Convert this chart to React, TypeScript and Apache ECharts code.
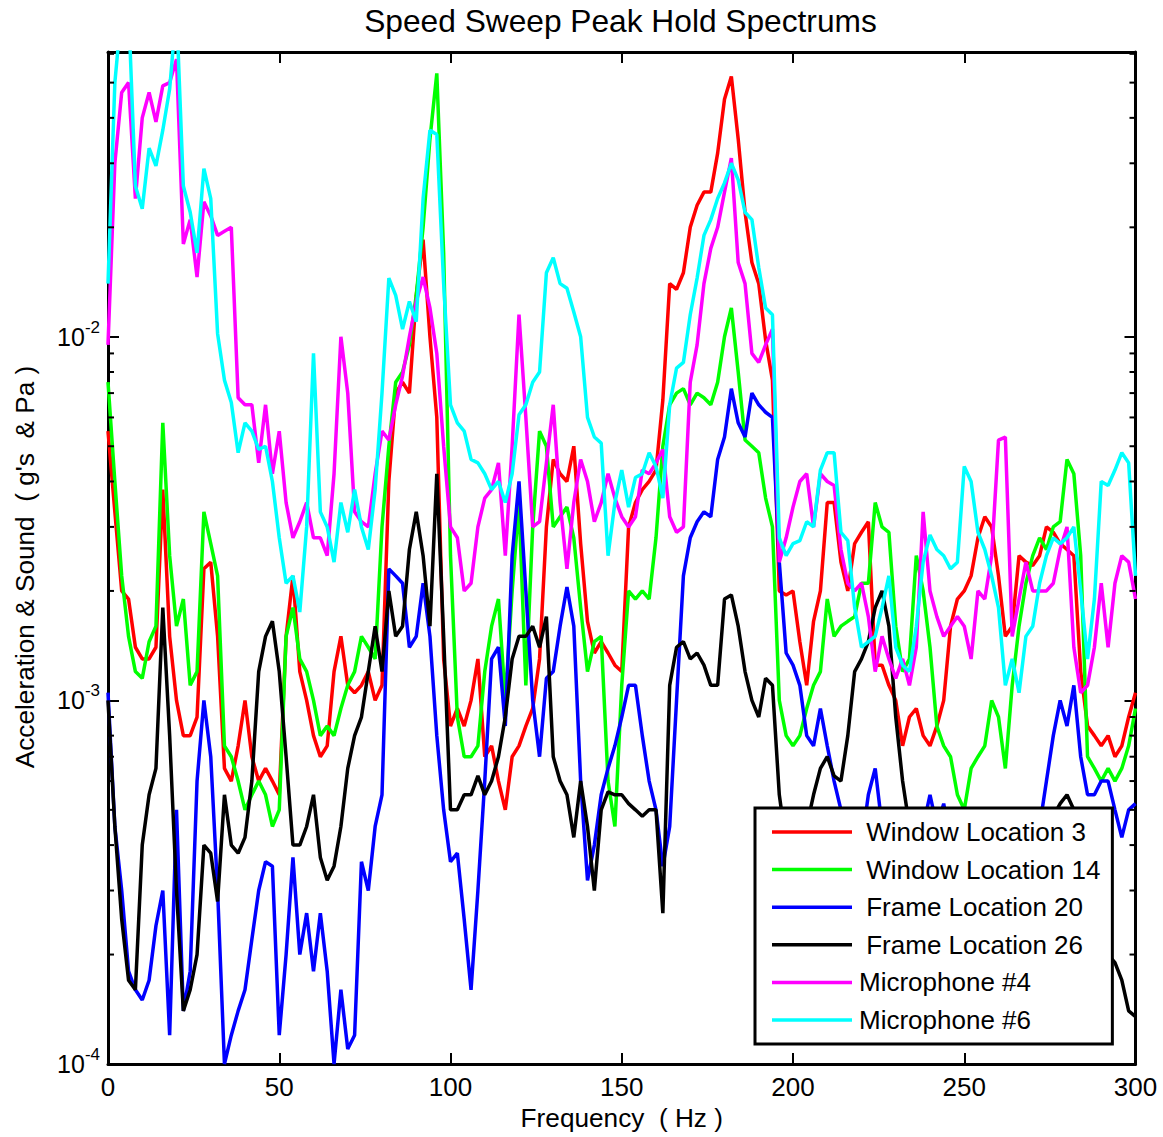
import React, { useEffect, useRef } from 'react';
import * as echarts from 'echarts';

// Frequency sampling points (Hz)
const FREQ = [
  0, 2, 4, 6, 8, 10, 12, 14, 16, 18, 20, 22, 24, 26, 28, 30, 32, 34, 36, 38,
  40, 42, 44, 46, 48, 50, 52, 54, 56, 58, 60, 62, 64, 66, 68, 70, 72, 74, 76, 78,
  80, 82, 84, 86, 88, 90, 92, 94, 96, 98, 100, 102, 104, 106, 108, 110, 112, 114, 116, 118,
  120, 122, 124, 126, 128, 130, 132, 134, 136, 138, 140, 142, 144, 146, 148, 150, 152, 154, 156, 158,
  160, 162, 164, 166, 168, 170, 172, 174, 176, 178, 180, 182, 184, 186, 188, 190, 192, 194, 196, 198,
  200, 202, 204, 206, 208, 210, 212, 214, 216, 218, 220, 222, 224, 226, 228, 230, 232, 234, 236, 238,
  240, 242, 244, 246, 248, 250, 252, 254, 256, 258, 260, 262, 264, 266, 268, 270, 272, 274, 276, 278,
  280, 282, 284, 286, 288, 290, 292, 294, 296, 298, 300,
];

// Values below are in units of 1e-3 (g's / Pa)
const UNIT = 1e-3;

const WINDOW_3 = [
  5.5, 3.3, 2.0, 1.9, 1.4, 1.3, 1.3, 1.4, 3.8, 1.5,
  1.0, 0.8, 0.8, 0.9, 2.3, 2.4, 1.5, 0.65, 0.6, 0.75,
  1.0, 0.7, 0.6, 0.65, 0.6, 0.55, 1.5, 2.2, 1.2, 1.0,
  0.8, 0.7, 0.75, 1.2, 1.5, 1.1, 1.05, 1.1, 1.2, 1.0,
  1.1, 4.0, 7.0, 7.5, 7.0, 13, 18.5, 10, 6, 1.3,
  0.85, 0.95, 0.85, 1.0, 1.3, 0.7, 0.75, 0.6, 0.5, 0.7,
  0.75, 0.85, 0.95, 1.3, 3.0, 4.6, 4.2, 4.0, 5.0, 2.7,
  1.65, 1.35, 1.45, 1.35, 1.25, 1.2, 3.0, 3.5, 3.8, 4.0,
  4.3, 6.7, 14, 13.5, 15, 20, 23, 25, 25, 32,
  45, 52, 35, 22, 16, 14, 9.8, 7.6, 2.0, 1.95,
  2.0, 1.45, 1.1, 1.65, 2.0, 3.5, 3.5, 2.4, 2.0, 2.7,
  2.9, 3.1, 1.25, 1.25, 1.1, 1.0, 0.75, 0.9, 0.95, 0.8,
  0.75, 0.85, 1.0, 1.6, 1.9, 2.0, 2.2, 2.8, 3.2, 3.0,
  2.2, 1.5, 1.6, 2.5, 2.4, 2.35, 2.5, 3.0, 2.9, 2.7,
  2.6, 2.5, 1.2, 0.85, 0.8, 0.75, 0.8, 0.7, 0.75, 0.9,
  1.05,
];

const WINDOW_14 = [
  7.5, 4.0, 2.2, 1.5, 1.2, 1.15, 1.45, 1.6, 5.8, 2.5,
  1.6, 1.9, 1.1, 1.2, 3.3, 2.7, 2.2, 0.75, 0.7, 0.6,
  0.5, 0.55, 0.6, 0.55, 0.45, 0.5, 1.5, 1.8, 1.3, 1.2,
  1.0, 0.8, 0.85, 0.8, 0.95, 1.1, 1.2, 1.5, 1.4, 1.3,
  3.0, 5.0, 7.5, 8.0, 9.5, 13, 20, 35, 53, 17,
  2.5, 0.9, 0.7, 0.7, 0.75, 1.2, 1.6, 1.9, 1.0, 2.0,
  3.5, 1.1, 3.0, 5.5, 5.0, 3.0, 3.2, 3.4, 2.8, 1.8,
  1.2, 1.45, 1.5, 0.6, 0.45, 1.1, 2.0, 1.9, 2.0, 1.9,
  2.8, 5.0, 6.5, 7.0, 7.2, 6.5, 7.0, 6.8, 6.5, 7.5,
  10, 12, 8.0, 5.2, 5.0, 4.8, 3.6, 3.0, 1.0, 0.8,
  0.75, 0.8, 0.95, 1.1, 1.2, 1.9, 1.5, 1.6, 1.65, 1.7,
  2.1, 2.1, 3.5, 3.0, 2.9, 1.6, 1.2, 1.3, 2.5, 2.0,
  1.4, 0.85, 0.75, 0.7, 0.55, 0.5, 0.65, 0.7, 0.75, 1.0,
  0.9, 0.65, 1.1, 1.6, 2.1, 2.5, 2.8, 2.6, 3.0, 3.1,
  4.6, 4.2, 2.5, 0.7, 0.65, 0.6, 0.65, 0.6, 0.65, 0.75,
  0.95,
];

const FRAME_20 = [
  1.05, 0.45, 0.3, 0.18, 0.16, 0.15, 0.17, 0.24, 0.3, 0.12,
  0.5, 0.14, 0.18, 0.6, 1.0, 0.7, 0.3, 0.1, 0.12, 0.14,
  0.16, 0.22, 0.3, 0.36, 0.35, 0.12, 0.2, 0.37, 0.2, 0.26,
  0.18, 0.26, 0.18, 0.1, 0.16, 0.11, 0.12, 0.36, 0.3, 0.45,
  0.55, 2.3, 2.2, 2.1, 1.4, 1.5, 2.1, 1.5, 0.8, 0.5,
  0.36, 0.38, 0.25, 0.16, 0.3, 0.6, 1.3, 1.4, 0.85, 2.5,
  4.0, 2.0, 1.0, 0.7, 1.15, 1.2, 1.6, 2.05, 1.6, 0.6,
  0.32, 0.4, 0.55, 0.65, 0.75, 0.9, 1.1, 1.1, 0.8, 0.6,
  0.5, 0.35, 0.45, 1.0, 2.2, 2.8, 3.1, 3.3, 3.2, 4.6,
  5.3, 7.2, 5.8, 5.3, 7.0, 6.5, 6.2, 6.0, 2.4, 1.35,
  1.25, 1.1, 0.8, 0.75, 0.95, 0.75, 0.6, 0.5, 0.4, 0.35,
  0.4, 0.55, 0.65, 0.45, 0.35, 0.3, 0.3, 0.35, 0.4, 0.45,
  0.55, 0.45, 0.52, 0.4, 0.3, 0.25, 0.25, 0.3, 0.3, 0.3,
  0.35, 0.35, 0.3, 0.3, 0.35, 0.4, 0.45, 0.6, 0.8, 1.0,
  0.85, 1.1, 0.7, 0.55, 0.55, 0.6, 0.6, 0.5, 0.42, 0.5,
  0.52,
];

const FRAME_26 = [
  1.0, 0.45, 0.25, 0.17, 0.16, 0.4, 0.55, 0.65, 1.8, 0.8,
  0.3, 0.14, 0.16, 0.2, 0.4, 0.38, 0.28, 0.55, 0.4, 0.38,
  0.42, 0.6, 1.2, 1.5, 1.65, 1.2, 0.7, 0.4, 0.4, 0.45,
  0.55, 0.37, 0.32, 0.35, 0.45, 0.65, 0.8, 0.9, 1.2, 1.6,
  1.2, 2.0, 1.5, 1.6, 2.6, 3.3, 2.5, 1.6, 4.2, 1.5,
  0.5, 0.5, 0.55, 0.55, 0.62, 0.55, 0.6, 0.7, 0.9, 1.3,
  1.5, 1.5, 1.6, 1.4, 1.7, 0.7, 0.6, 0.55, 0.42, 0.6,
  0.45, 0.3, 0.5, 0.56, 0.55, 0.55, 0.52, 0.5, 0.48, 0.5,
  0.5, 0.26, 1.1, 1.4, 1.45, 1.3, 1.35, 1.25, 1.1, 1.1,
  1.9, 1.95, 1.6, 1.2, 1.0, 0.9, 1.15, 1.1, 0.55, 0.4,
  0.35, 0.4, 0.45, 0.55, 0.65, 0.7, 0.62, 0.6, 0.8, 1.2,
  1.3, 1.45, 1.8, 2.0, 1.6, 0.9, 0.6, 0.45, 0.35, 0.3,
  0.28, 0.27, 0.28, 0.3, 0.32, 0.3, 0.28, 0.3, 0.32, 0.35,
  0.33, 0.3, 0.32, 0.35, 0.38, 0.4, 0.42, 0.45, 0.48, 0.52,
  0.55, 0.5, 0.4, 0.3, 0.25, 0.22, 0.2, 0.19, 0.17, 0.14,
  0.135,
];

const MIC_4 = [
  9.5, 30, 47, 50, 24, 40, 47, 39, 49, 50,
  58, 18, 21, 14.6, 23.5, 21.5, 19, 19.5, 20, 6.8,
  6.5, 6.5, 4.5, 6.5, 4.2, 5.5, 3.5, 2.8, 3.1, 3.5,
  2.8, 2.8, 2.5, 4.2, 10, 7, 3.3, 3.1, 3.0, 4.2,
  5.5, 5.2, 6.5, 7.8, 10, 12.5, 14.6, 12, 9, 5,
  3.0, 2.8, 2.0, 2.1, 3.0, 3.6, 3.8, 4.5, 2.5, 5,
  11.5, 6, 3.0, 3.1, 4.5, 6.5, 3.5, 2.3, 3.5, 4.6,
  4.0, 3.1, 3.5, 4.2, 3.6, 3.2, 3.0, 3.2, 4.3, 4.2,
  4.5, 4.9, 3.2, 2.9, 3.0, 7.5, 9.5, 14, 17.5, 20,
  25, 31, 16, 14, 9, 8.5, 9.5, 10.5, 2.4, 2.8,
  3.4, 4.0, 4.2, 3.0, 4.2, 4.0, 3.9, 2.6, 2.1, 2.0,
  2.1, 1.7, 1.2, 1.5, 1.3, 1.15, 1.3, 1.1, 1.4, 3.3,
  2.0, 1.7, 1.5, 1.6, 1.7, 1.6, 1.3, 2.0, 1.9, 2.5,
  5.2, 5.3, 1.5, 1.9, 2.4, 2.0, 2.0, 2.0, 2.1, 2.6,
  3.0, 1.4, 1.05, 1.1, 1.4, 2.1, 1.4, 2.1, 2.5, 2.4,
  1.9,
];

const MIC_6 = [
  14, 50, 80, 80, 26, 22.5, 33, 29.5, 37, 48,
  80, 26, 22, 17, 29, 24, 10.2, 7.6, 6.6, 4.8,
  5.8, 5.5, 4.9, 5.0, 4.0, 2.8, 2.1, 2.2, 1.75, 3.0,
  9.0, 3.3, 3.0, 2.4, 3.5, 2.9, 3.8, 3.0, 2.6, 3.8,
  7, 14.5, 13, 10.5, 12.5, 11, 24, 37, 36, 14,
  6.5, 5.8, 5.5, 4.6, 4.5, 4.2, 3.8, 4.0, 3.5, 4.2,
  6.1, 6.5, 7.5, 8, 15, 16.5, 14, 13.6, 11.7, 10,
  6, 5.3, 5.1, 2.5, 3.5, 4.3, 3.4, 4.1, 4.2, 4.8,
  4.4, 3.6, 6.5, 8.2, 8.5, 11.5, 14.5, 19, 21, 24,
  26.5, 30, 27, 22, 21, 15.5, 12, 11.5, 2.8, 2.5,
  2.7, 2.75, 3.1, 3.0, 4.3, 4.8, 4.8, 2.9, 2.75, 1.8,
  1.4, 1.45, 1.5, 1.8, 2.2, 1.4, 1.25, 1.2, 1.6, 2.4,
  2.85, 2.6, 2.5, 2.3, 2.4, 4.4, 4.0, 2.9, 2.6, 2.2,
  1.8, 1.1, 1.3, 1.05, 1.5, 1.6, 2.1, 2.5, 2.8, 2.7,
  2.8, 3.0, 2.0, 1.3, 1.9, 4.0, 3.9, 4.3, 4.8, 4.5,
  2.2,
];

const SERIES_NAMES = [
  ' Window Location 3',
  ' Window Location 14',
  ' Frame Location 20',
  ' Frame Location 26',
  'Microphone #4',
  'Microphone #6',
];
const SERIES_VALUES = [WINDOW_3, WINDOW_14, FRAME_20, FRAME_26, MIC_4, MIC_6];
const SERIES_COLORS = ['#ff0000', '#00ff00', '#0000ff', '#000000', '#ff00ff', '#00ffff'];

const X_MIN = 0;
const X_MAX = 300;
const X_INTERVAL = 50;
const Y_MIN = 1e-4;
const Y_MAX = 0.0607;
const Y_MINOR_TICKS = [
  2e-4, 3e-4, 4e-4, 5e-4, 6e-4, 7e-4, 8e-4, 9e-4,
  2e-3, 3e-3, 4e-3, 5e-3, 6e-3, 7e-3, 8e-3, 9e-3,
  2e-2, 3e-2, 4e-2, 5e-2, 6e-2,
];

const TITLE = 'Speed Sweep Peak Hold Spectrums';
const X_NAME = 'Frequency  ( Hz )';
const Y_NAME = "Acceleration & Sound  ( g's  & Pa )";

const FONT = "'Liberation Sans', Arial, Helvetica, sans-serif";

export default function App() {
  const ref = useRef<HTMLDivElement>(null);

  useEffect(() => {
    document.body.style.margin = '0';
    const chart = echarts.init(ref.current as HTMLDivElement, null, { renderer: 'svg' });

    const axisLine = { show: true, onZero: false, lineStyle: { color: '#000', width: 3 } };
    const majorTick = { show: true, inside: true, length: 11, lineStyle: { color: '#000', width: 2 } };

    const lineSeries = SERIES_VALUES.map((vals, i) => ({
      name: SERIES_NAMES[i],
      type: 'line',
      data: FREQ.map((f, j) => [f, vals[j] * UNIT]),
      symbol: 'none',
      showSymbol: false,
      clip: true,
      lineStyle: { color: SERIES_COLORS[i], width: 3.5 },
      itemStyle: { color: SERIES_COLORS[i] },
      emphasis: { disabled: true },
      z: 2,
    }));

    const minorTickSeries = {
      name: 'yMinorTicks',
      type: 'custom',
      data: Y_MINOR_TICKS.map((v) => [X_MIN, v]),
      encode: { x: 0, y: 1 },
      silent: true,
      z: 6,
      renderItem: (_params: any, api: any) => {
        const v = api.value(1);
        const l = api.coord([X_MIN, v]);
        const r = api.coord([X_MAX, v]);
        return {
          type: 'group',
          children: [
            { type: 'line', shape: { x1: l[0], y1: l[1], x2: l[0] + 6, y2: l[1] }, style: { stroke: '#000', lineWidth: 2 } },
            { type: 'line', shape: { x1: r[0] - 6, y1: r[1], x2: r[0], y2: r[1] }, style: { stroke: '#000', lineWidth: 2 } },
          ],
        };
      },
    };

    const option: any = {
      animation: false,
      backgroundColor: '#ffffff',
      textStyle: { fontFamily: FONT },
      title: {
        text: TITLE,
        left: 615.5,
        textAlign: 'center',
        top: 0,
        textStyle: { fontSize: 31.7, fontWeight: 'normal', color: '#000', fontFamily: FONT },
      },
      grid: { left: 108, right: 27.5, top: 52, bottom: 73, containLabel: false, outerBoundsMode: 'none' },
      legend: {
        data: SERIES_NAMES.map((n) => ({ name: n, icon: 'rect' })),
        orient: 'vertical',
        left: 755,
        top: 808,
        itemWidth: 80,
        itemHeight: 3.5,
        itemGap: 9.6,
        padding: [10, 12, 10, 17],
        backgroundColor: '#ffffff',
        borderColor: '#000',
        borderWidth: 3,
        borderRadius: 0,
        selectedMode: false,
        textStyle: { fontSize: 26, color: '#000', fontFamily: FONT, lineHeight: 28, padding: [0, 0, 0, 2] },
        z: 10,
      },
      xAxis: [
        {
          type: 'value',
          min: X_MIN,
          max: X_MAX,
          interval: X_INTERVAL,
          position: 'bottom',
          axisLine,
          axisTick: majorTick,
          splitLine: { show: false },
          axisLabel: { color: '#000', fontSize: 26, margin: 10, fontFamily: FONT, showMinLabel: true, showMaxLabel: true },
          name: X_NAME,
          nameLocation: 'middle',
          nameGap: 41,
          nameTextStyle: { color: '#000', fontSize: 26.2, fontFamily: FONT },
        },
        {
          type: 'value',
          min: X_MIN,
          max: X_MAX,
          interval: X_INTERVAL,
          position: 'top',
          axisLine,
          axisTick: majorTick,
          splitLine: { show: false },
          axisLabel: { show: false },
        },
      ],
      yAxis: [
        {
          type: 'log',
          logBase: 10,
          min: Y_MIN,
          max: Y_MAX,
          position: 'left',
          axisLine,
          axisTick: majorTick,
          splitLine: { show: false },
          minorTick: { show: false },
          axisLabel: {
            margin: 8,
            formatter: (v: number) => {
              const l = Math.log10(v);
              const e = Math.round(l);
              if (Math.abs(l - e) > 1e-6) return '';
              return `{b|10}{s|${e}}`;
            },
            rich: {
              b: { fontSize: 25, lineHeight: 36, color: '#000', fontFamily: FONT },
              s: { fontSize: 17, lineHeight: 17, verticalAlign: 'top', color: '#000', fontFamily: FONT },
            },
          },
          name: Y_NAME,
          nameLocation: 'middle',
          nameGap: 70,
          nameTextStyle: { color: '#000', fontSize: 26.2, fontFamily: FONT, padding: [0, 18, 0, 0] },
        },
        {
          type: 'log',
          logBase: 10,
          min: Y_MIN,
          max: Y_MAX,
          position: 'right',
          axisLine,
          axisTick: majorTick,
          splitLine: { show: false },
          axisLabel: { show: false },
        },
      ],
      series: [...lineSeries, minorTickSeries],
    };

    chart.setOption(option);
    return () => chart.dispose();
  }, []);

  return <div ref={ref} style={{ width: 1163, height: 1137, background: '#fff' }} />;
}
